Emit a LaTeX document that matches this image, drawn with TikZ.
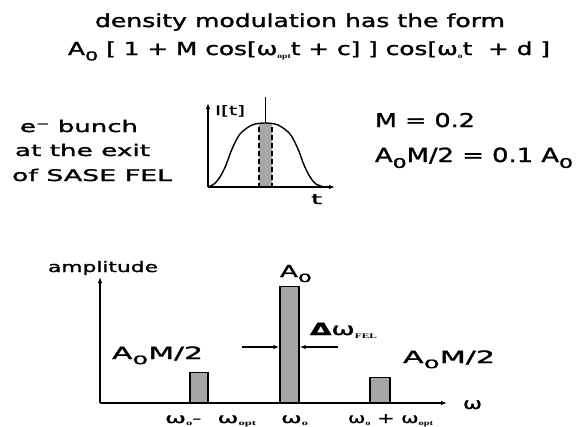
\documentclass[tikz,border=0pt]{standalone}
\usepackage{fontspec}
\setmainfont{DejaVu Sans}[FakeBold=1.3]
\newfontfamily\serifb{Liberation Serif}
\usetikzlibrary{arrows.meta}
\newcommand\fitw[2]{\resizebox{#1pt}{\height}{#2}}
\newcommand\zs{\raisebox{-0.3em}{\scalebox{0.85}[0.68]{0}}}
\newcommand\tsub[1]{\raisebox{-0.2em}{\serifb\bfseries\fontsize{7}{7}\selectfont #1}}
\begin{document}
\begin{tikzpicture}[x=1pt,y=-1pt,
  txt/.style={anchor=base west,inner sep=0pt,outer sep=0pt},
  ax/.style={line width=1.4pt},
  axarr/.style={ax,-{Latex[length=6pt,width=4.5pt]}},
  bar/.style={draw,line width=1.4pt,fill=black!35,inner sep=0pt,anchor=south},
  arr/.style={line width=1.2pt,-{Latex[length=6pt,width=4.5pt]}}]
\useasboundingbox (0,0) rectangle (580,426);
% title
\node[txt,font=\fontsize{18}{18}\selectfont] (t1) at (95,27) {\fitw{410}{density modulation has the form}};
\node[txt,font=\fontsize{18}{18}\selectfont] (t2) at (68,55) {\fitw{482}{A\zs\ [ 1 + M cos[ω\tsub{opt}t + c] ] cos[ω\tsub{o}t\ \ + d ]}};
% left text
\node[txt,font=\fontsize{16}{16}\selectfont] (l1) at (20,132) {\fitw{118}{e⁻ bunch}};
\node[txt,font=\fontsize{16}{16}\selectfont] (l2) at (15,156) {\fitw{135}{at the exit}};
\node[txt,font=\fontsize{16}{16}\selectfont] (l3) at (12,181) {\fitw{160}{of SASE FEL}};
% right text
\node[txt,font=\fontsize{19}{19}\selectfont] (r1) at (375,127) {\fitw{100}{M = 0.2}};
\node[txt,font=\fontsize{19.5}{19.5}\selectfont] (r2) at (375,162) {\fitw{198}{A\zs M/2 = 0.1 A\zs}};
% small graph
\coordinate (o1) at (208,187);
\coordinate (y1) at (208,103);
\coordinate (x1) at (335,187);
\def\bell{(208,187) (214,184) (220,177) (226,165) (232,149) (240,134) (252,125) (265,123) (278,125) (290,134) (298,149) (304,165) (310,177) (316,184) (324,187)}
\begin{scope}
  \clip (259,100) rectangle (272,187);
  \fill[black!35] plot[smooth] coordinates {\bell} -- cycle;
\end{scope}
\draw[line width=1.4pt,dash pattern=on 5pt off 3pt] (259,127) -- (259,187);
\draw[line width=1.4pt,dash pattern=on 5pt off 3pt] (272,127) -- (272,187);
\draw[line width=1.4pt] plot[smooth] coordinates {\bell};
\draw[line width=0.8pt] (265,97) -- (265,123);
\draw[axarr] (o1) -- (y1);
\draw[axarr] (o1) -- (x1);
\node[txt,font=\fontsize{13}{13}\selectfont] (it) at (215,115) {\fitw{30}{I[t]}};
\node[txt,font=\fontsize{14}{14}\selectfont] (tl) at (311,204) {\fitw{11}{t}};
% spectrum
\node[bar,minimum width=18pt,minimum height=30pt] (bL) at (199,403) {};
\node[bar,minimum width=19pt,minimum height=116pt] (bC) at (289.5,403) {};
\node[bar,minimum width=20pt,minimum height=25pt] (bR) at (380,403) {};
\coordinate (o2) at (100,403);
\coordinate (y2) at (100,277);
\coordinate (x2) at (447,403);
\draw[axarr] (o2) -- (y2);
\draw[axarr] (o2) -- (x2);
\node[txt,font=\fontsize{14.5}{14.5}\selectfont] (amp) at (48,272) {\fitw{110}{amplitude}};
\node[txt,font=\fontsize{16.5}{16.5}\selectfont] (a0) at (280,277) {\fitw{32}{A\zs}};
\node[txt,font=\fontsize{17}{17}\selectfont] (dw) at (310,335) {\fitw{67}{\textbf{Δ}ω\tsub{FEL}}};
\coordinate (aL) at (242,347);
\coordinate (aR) at (338,347);
\draw[arr] (aL) -- (aL -| bC.west);
\draw[arr] (aR) -- (aR -| bC.east);
\node[txt,font=\fontsize{17}{17}\selectfont] (ml) at (112,359) {\fitw{91}{A\zs M/2}};
\node[txt,font=\fontsize{17}{17}\selectfont] (mr) at (403,363) {\fitw{92}{A\zs M/2}};
\node[txt,font=\fontsize{16}{16}\selectfont] (om) at (463,409) {\fitw{19}{ω}};
\node[txt,font=\fontsize{14}{14}\selectfont] (f1) at (165,423) {\fitw{91}{ω\tsub{o}- \ ω\tsub{opt}}};
\node[txt,font=\fontsize{14}{14}\selectfont] (f2) at (281,423) {\fitw{27}{ω\tsub{o}}};
\node[txt,font=\fontsize{14}{14}\selectfont] (f3) at (348,423) {\fitw{85}{ω\tsub{o} + ω\tsub{opt}}};
\end{tikzpicture}
\end{document}
